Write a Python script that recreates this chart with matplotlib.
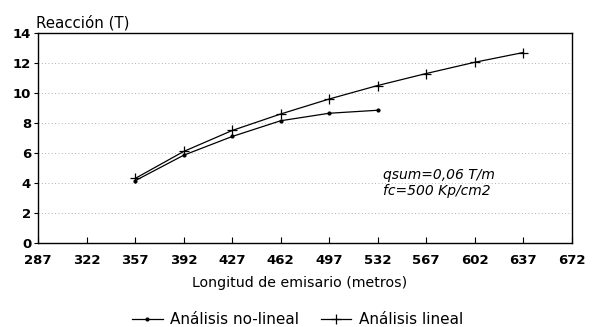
import matplotlib
matplotlib.use("Agg")
import matplotlib.pyplot as plt

plt.rcParams['font.family'] = ['DejaVu Sans']

# Datos
longitud = [357, 392, 427, 462, 497, 532, 567, 602, 637]
no_lineal = [4.15, 5.85, 7.1, 8.15, 8.65, 8.85]
lineal = [4.3, 6.1, 7.5, 8.6, 9.6, 10.5, 11.3, 12.05, 12.7]
xticks = [287, 322, 357, 392, 427, 462, 497, 532, 567, 602, 637, 672]
yticks = [0, 2, 4, 6, 8, 10, 12, 14]

fig = plt.figure(figsize=(5.95, 3.27), dpi=100)
ax = fig.add_axes([0.064, 0.257, 0.897, 0.642])

ax.plot(longitud[:len(no_lineal)], no_lineal, color='black', lw=0.9,
        marker='.', markersize=4, label='Análisis no-lineal')
ax.plot(longitud, lineal, color='black', lw=0.9,
        marker='+', markersize=7, markeredgewidth=0.9, label='Análisis lineal')

ax.set_xlim(287, 672)
ax.set_ylim(0, 14)
ax.set_xticks(xticks)
ax.set_yticks(yticks)
ax.tick_params(axis='x', direction='in', length=4, labelsize=9.5, pad=8)
ax.tick_params(axis='y', direction='out', length=3, labelsize=9.5, pad=2)
for lbl in ax.get_xticklabels() + ax.get_yticklabels():
    lbl.set_fontweight('bold')

# lineas de referencia punteadas
ax.grid(axis='y', color='0.6', linestyle=(0, (1, 3)), linewidth=0.6)
ax.set_axisbelow(True)

for s in ax.spines.values():
    s.set_linewidth(1.0)

ax.text(536, 4.55, 'qsum=0,06 T/m', style='italic', fontsize=10,
        va='center', ha='left')
ax.text(536, 3.45, 'fc=500 Kp/cm2', style='italic', fontsize=10,
        va='center', ha='left')

fig.text(0.06, 0.93, 'Reacción (T)', fontsize=10.8,
         ha='left', va='center')
fig.text(0.503, 0.135, 'Longitud de emisario (metros)', fontsize=10.2,
         ha='center', va='center')

fig.legend(loc='center', bbox_to_anchor=(0.5, 0.022), ncol=2, frameon=False,
           fontsize=11, handlelength=2.0, columnspacing=1.4, handletextpad=0.5)

fig.savefig('out.png', dpi=100)
